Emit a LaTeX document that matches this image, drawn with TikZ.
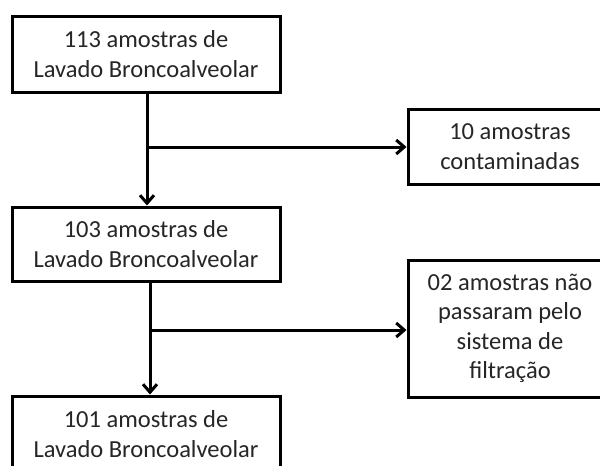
\documentclass[tikz,border=0pt]{standalone}
\usepackage{fontspec}
\setmainfont{Carlito}
\usetikzlibrary{arrows.meta}
\begin{document}
\begin{tikzpicture}[x=1pt,y=-1pt,
  box/.style={draw=black,line width=3pt,fill=white,inner sep=0pt,align=center,
    font=\fontsize{24.5}{29.5}\selectfont,text=black!85},
  arr/.style={line width=3pt,-{Straight Barb[length=8pt,width=14pt,line width=3pt]}}]
\useasboundingbox (0,0) rectangle (600,466);
\clip (0,0) rectangle (600,466);
\node[box,minimum width=268pt,minimum height=76pt] (b1) at (146,54) {\raisebox{-3pt}{\parbox{260pt}{\centering 113 amostras de\\Lavado Broncoalveolar}}};
\node[box,minimum width=204pt,minimum height=75pt] (b2) at (510,146.5) {\raisebox{-2pt}{\parbox{200pt}{\centering 10 amostras\\contaminadas}}};
\node[box,minimum width=268pt,minimum height=74pt] (b3) at (146,244) {\raisebox{-2pt}{\parbox{260pt}{\centering 103 amostras de\\Lavado Broncoalveolar}}};
\node[box,minimum width=204pt,minimum height=137pt] (b4) at (510,328.5) {\raisebox{-2pt}{\parbox{200pt}{\centering 02 amostras não\\passaram pelo\\sistema de\\filtração}}};
\node[box,minimum width=268pt,minimum height=76pt] (b5) at (146,434) {\raisebox{-2pt}{\parbox{260pt}{\centering 101 amostras de\\Lavado Broncoalveolar}}};
\coordinate (j1) at (147,147);
\coordinate (j2) at (150,330);
\draw[arr] (b1.south -| j1) -- (b3.north -| j1);
\draw[arr] (j1) -- (b2.west |- j1);
\draw[arr] (b3.south -| j2) -- (b5.north -| j2);
\draw[arr] (j2) -- (b4.west |- j2);
\end{tikzpicture}
\end{document}
